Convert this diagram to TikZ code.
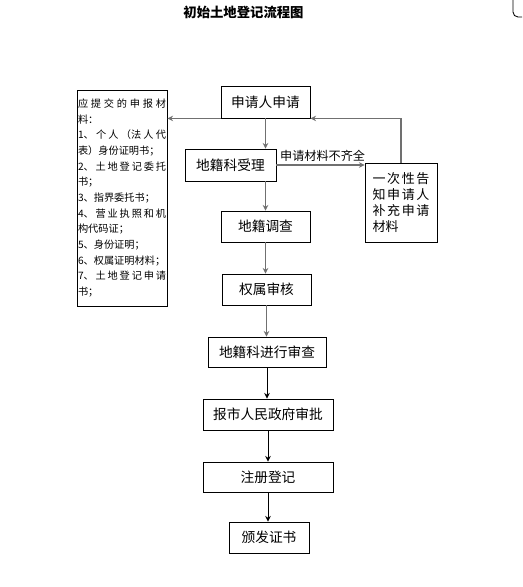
\documentclass[tikz,border=0pt]{standalone}
\usepackage{fontspec}
\setmainfont{Noto Sans CJK SC}
\usetikzlibrary{arrows.meta}
\XeTeXlinebreaklocale "zh"
\XeTeXlinebreakskip=0pt plus 8pt
\definecolor{linkgray}{RGB}{112,112,112}

\begin{document}
\begin{tikzpicture}[
    stepbox/.style={draw, line width=0.5pt, inner sep=0pt, font=\fontsize{7.8}{9}\selectfont},
    flow/.style={draw=linkgray, line width=0.9pt, -{Stealth[length=3.2pt,width=3.2pt]}},
    flowdark/.style={draw=black, line width=0.5pt, -{Stealth[length=3.2pt,width=3.2pt]}}
  ]

  \useasboundingbox (0, 0) rectangle (10.44, 11.74);

  % --- titolo ---
  \node[font=\fontsize{7.6}{9}\selectfont\bfseries] (title) at (4.87, 11.50) {初始土地登记流程图};

  % --- angolo pagina ---
  \draw[line width=0.5pt, rounded corners=0.1cm] (10.26, 11.74) -- (10.26, 11.40) -- (10.44, 11.40);

  % --- colonna centrale ---
  \node[stepbox, minimum width=1.78cm, minimum height=0.64cm] (apply)    at (5.31, 9.70) {申请人申请};
  \node[stepbox, minimum width=1.82cm, minimum height=0.64cm] (accept)   at (4.61, 8.44) {地籍科受理};
  \node[stepbox, minimum width=1.78cm, minimum height=0.62cm] (survey)   at (5.31, 7.21) {地籍调查};
  \node[stepbox, minimum width=1.78cm, minimum height=0.62cm] (verify)   at (5.33, 5.95) {权属审核};
  \node[stepbox, minimum width=2.36cm, minimum height=0.60cm] (review)   at (5.34, 4.70) {地籍科进行审查};
  \node[stepbox, minimum width=2.60cm, minimum height=0.62cm] (approve)  at (5.36, 3.45) {报市人民政府审批};
  \node[stepbox, minimum width=2.60cm, minimum height=0.60cm] (register) at (5.36, 2.20) {注册登记};
  \node[stepbox, minimum width=1.60cm, minimum height=0.62cm] (issue)    at (5.38, 0.99) {颁发证书};

  % --- materiali ---
  \node[draw, line width=0.5pt, text width=1.76cm, minimum height=4.32cm,
        inner xsep=0.02cm, inner ysep=0pt, align=justify,
        font=\fontsize{5.8}{8.9}\selectfont] (materials) at (2.44, 7.78)
    {\parindent=0pt 应提交的申报材\linebreak 料：\par
     1、个人（法人代\linebreak 表）身份证明书；\par
     2、土地登记委托\linebreak 书；\par
     3、指界委托书；\par
     4、营业执照和机\linebreak 构代码证；\par
     5、身份证明；\par
     6、权属证明材料；\par
     7、土地登记申请\linebreak 书；\par};

  % --- avviso ---
  \node[draw, line width=0.5pt, text width=1.14cm, minimum width=1.44cm, minimum height=1.58cm,
        inner xsep=0.15cm, inner ysep=0pt, align=justify,
        font=\fontsize{7.4}{9.1}\selectfont] (notice) at (8.02, 7.69)
    {\parindent=0pt 一次性告\linebreak 知申请人\linebreak 补充申请\linebreak 材料\par};

  % --- frecce ---
  \draw[flow] (apply.south) -- (apply.south |- accept.north);
  \draw[flow] (apply.south west) -- (apply.south west -| materials.east);
  \draw[flow] (accept.east) -- (accept.east -| notice.west)
    node[pos=0, anchor=south west, inner sep=0.06cm, font=\fontsize{6.9}{8}\selectfont] (short) {申请材料不齐全};
  \draw[flow] (notice.north) |- (apply.south east);
  \draw[flow] (survey.north |- accept.south) -- (survey.north);
  \draw[flow] (survey.south) -- (survey.south |- verify.north);
  \draw[flow] (verify.south) -- (verify.south |- review.north);
  \draw[flowdark] (review.south) -- (review.south |- approve.north);
  \draw[flowdark] (approve.south) -- (approve.south |- register.north);
  \draw[flowdark] (register.south) -- (register.south |- issue.north);

\end{tikzpicture}
\end{document}
